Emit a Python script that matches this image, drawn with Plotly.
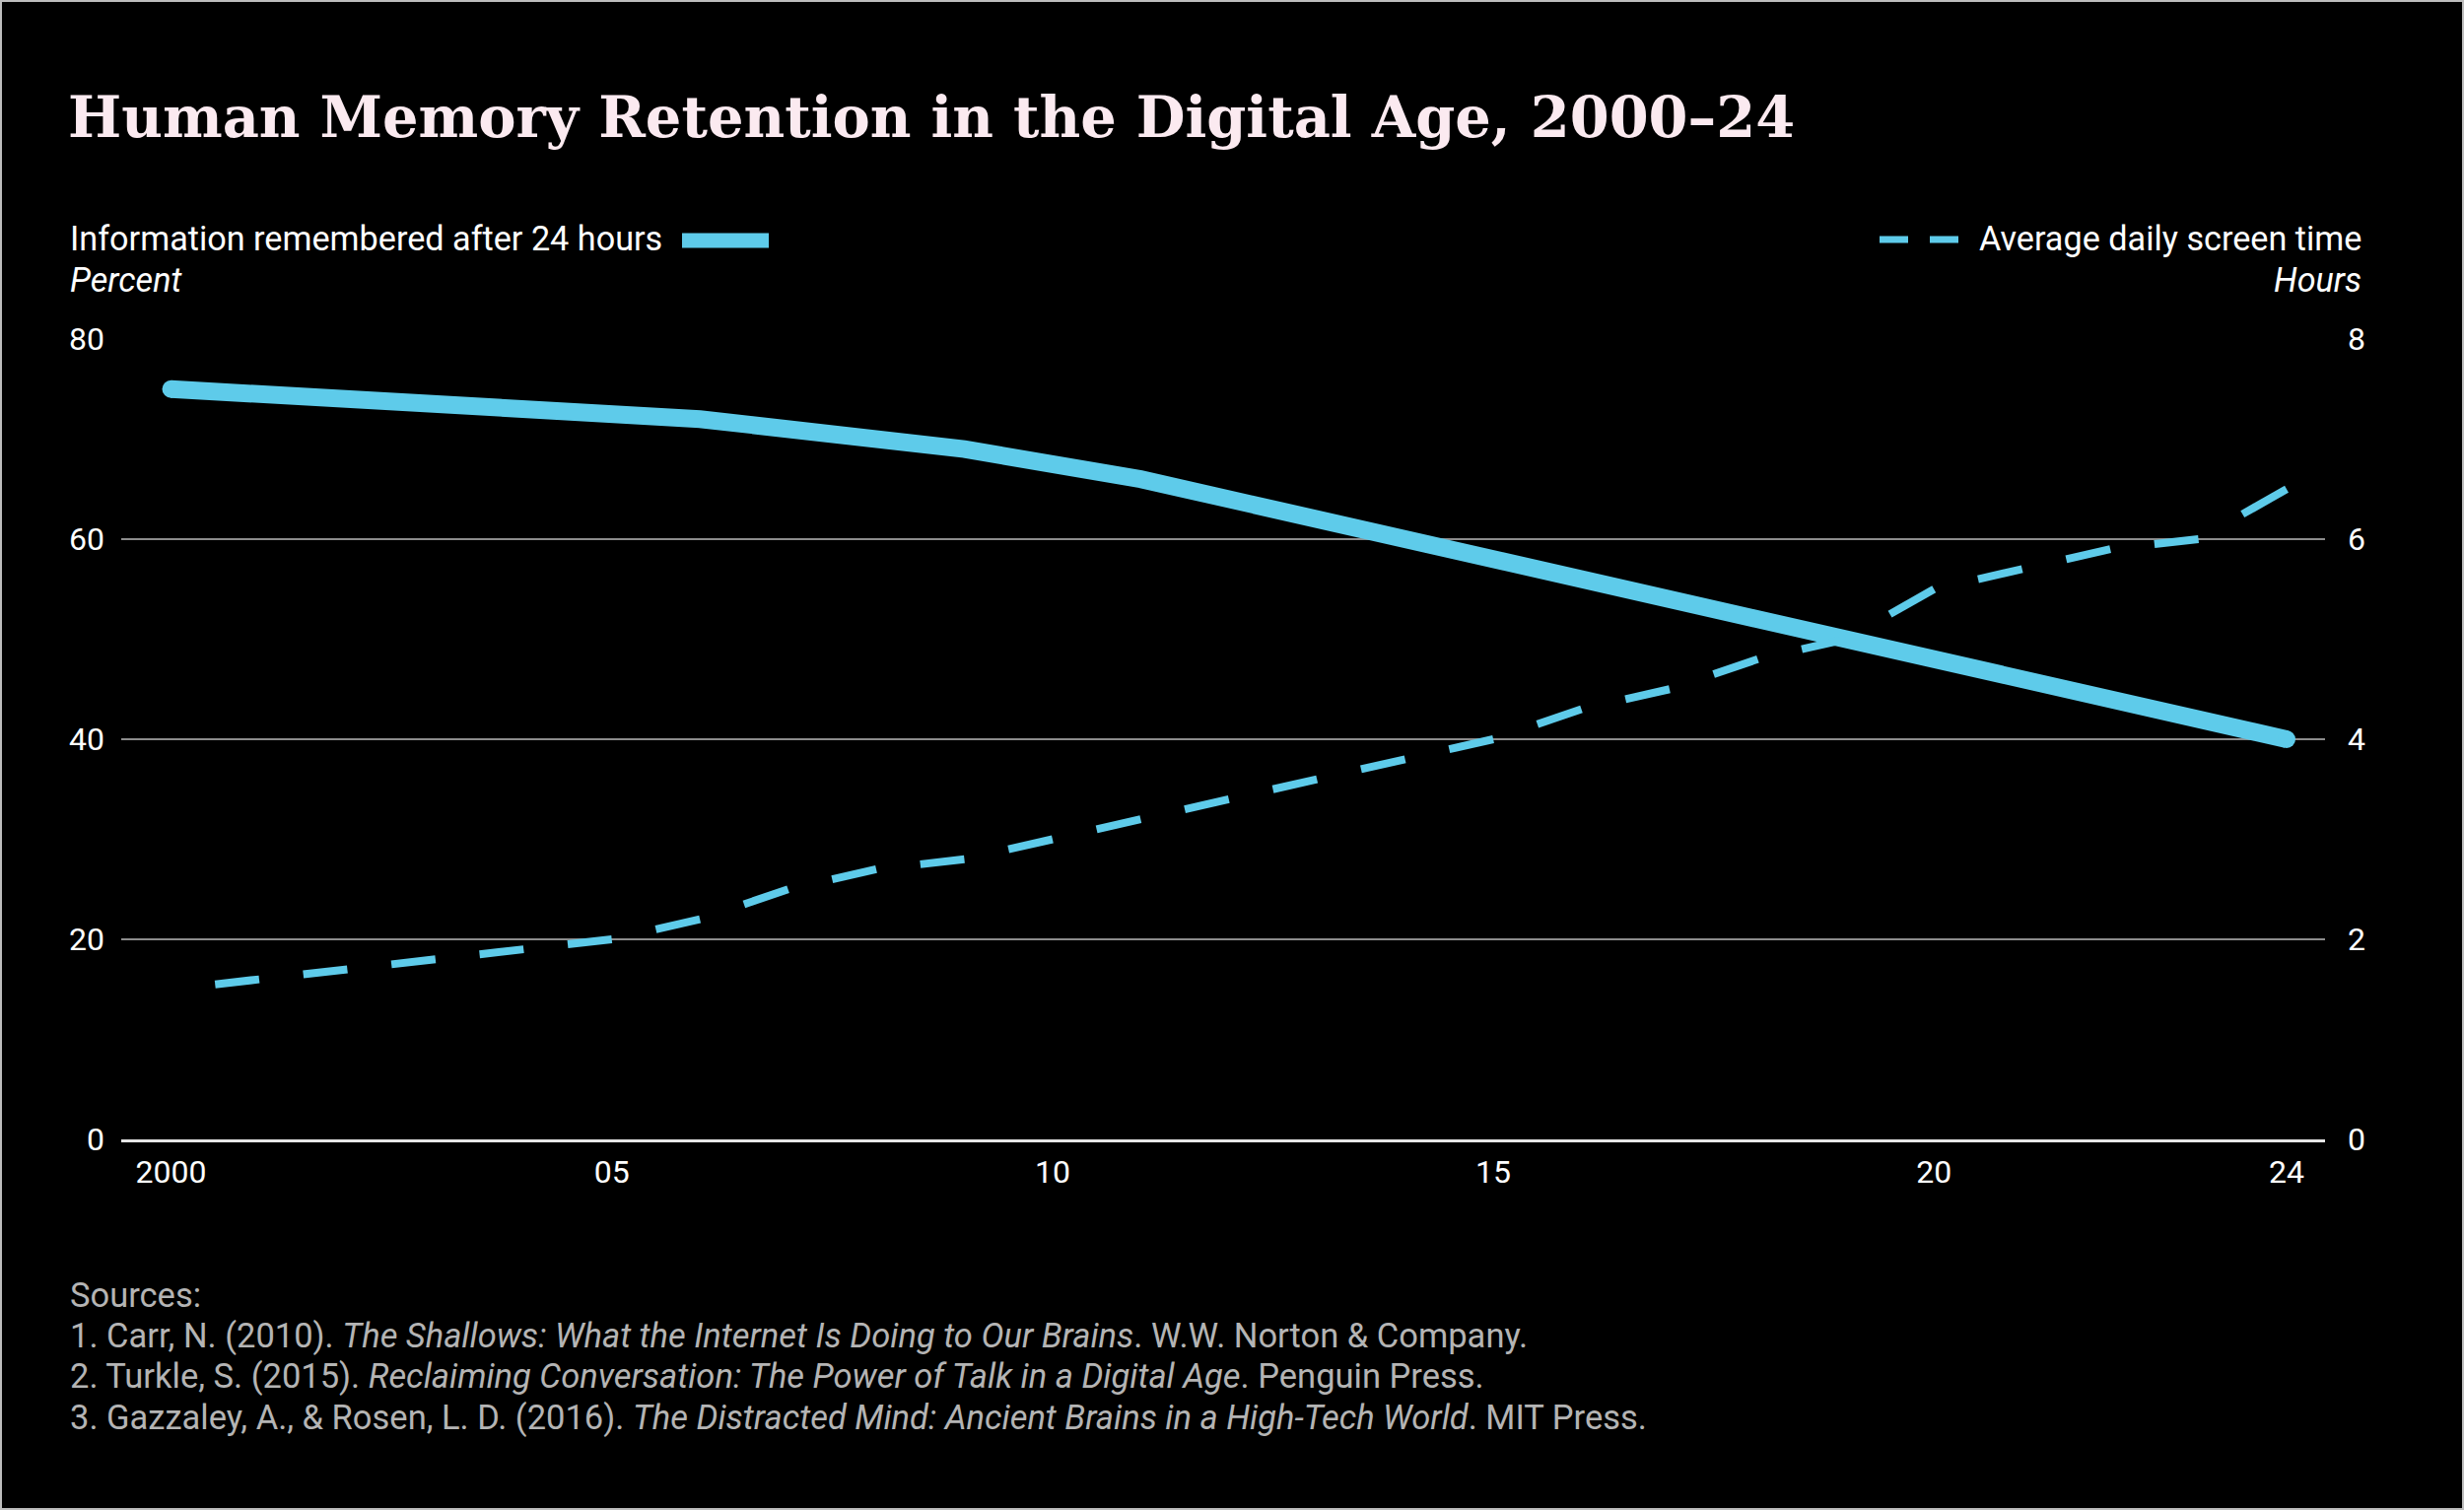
import plotly.graph_objects as go

# data
years = list(range(2000, 2025))
screen_hours = [1.5, 1.6, 1.7, 1.8, 1.9, 2.0, 2.2, 2.5, 2.7, 2.8, 3.0, 3.2, 3.4,
                3.6, 3.8, 4.0, 4.3, 4.5, 4.8, 5.0, 5.5, 5.7, 5.9, 6.0, 6.5]

memory_years = [2000, 2006, 2009, 2011, 2024]
memory_pct = [75, 72, 69, 66, 40]

tick_years = [2000, 2005, 2010, 2015, 2020, 2024]
tick_labels = ["2000", "05", "10", "15", "20", "24"]

sources = [
    "Sources:",
    "1. Carr, N. (2010). <i>The Shallows: What the Internet Is Doing to Our Brains</i>. W.W. Norton &amp; Company.",
    "2. Turkle, S. (2015). <i>Reclaiming Conversation: The Power of Talk in a Digital Age</i>. Penguin Press.",
    "3. Gazzaley, A., &amp; Rosen, L. D. (2016). <i>The Distracted Mind: Ancient Brains in a High-Tech World</i>. MIT Press.",
]

W, H = 2500, 1532
L, R, T, B = 123, 2359, 344, 1156
BLUE = "#5ecbea"
FONT = "Roboto"


def px(x):
    return (x - L) / (R - L)


def py(y):
    return (B - y) / (B - T)


# the reference draws the dashed line as one dash per year, in the second half
seg_x, seg_y = [], []
for i in range(1, len(years)):
    seg_x += [(years[i - 1] + years[i]) / 2, years[i], None]
    seg_y += [(screen_hours[i - 1] + screen_hours[i]) / 2, screen_hours[i], None]

fig = go.Figure()

fig.add_trace(go.Scatter(
    x=seg_x, y=seg_y, yaxis="y2",
    mode="lines", line=dict(color=BLUE, width=8),
    hoverinfo="skip", showlegend=False))

fig.add_trace(go.Scatter(
    x=memory_years, y=memory_pct,
    mode="lines", line=dict(color=BLUE, width=18),
    name="Information remembered after 24 hours", showlegend=False))

# round ends of the thick line
fig.add_trace(go.Scatter(
    x=[memory_years[0], memory_years[-1]], y=[memory_pct[0], memory_pct[-1]],
    mode="markers", marker=dict(color=BLUE, size=18),
    hoverinfo="skip", showlegend=False))

annotations = [
    dict(text="Information remembered after 24 hours", x=px(69), y=py(242),
         xanchor="left", yanchor="middle", font=dict(size=34.2, color="white")),
    dict(text="<i>Percent</i>", x=px(69), y=py(284),
         xanchor="left", yanchor="middle", font=dict(size=34.2, color="white")),
    dict(text="Average daily screen time", x=px(2398), y=py(242),
         xanchor="right", yanchor="middle", font=dict(size=34.2, color="white")),
    dict(text="<i>Hours</i>", x=px(2398), y=py(284),
         xanchor="right", yanchor="middle", font=dict(size=34.2, color="white")),
]
for i, line in enumerate(sources):
    annotations.append(dict(text=line, x=px(69), y=py(1314 + 41.4 * i),
                            xanchor="left", yanchor="middle",
                            font=dict(size=34.5, color="#b4b4b4")))
for a in annotations:
    a.update(xref="paper", yref="paper", showarrow=False)

shapes = [
    dict(type="line", xref="paper", yref="paper",
         x0=px(692), x1=px(780), y0=py(244), y1=py(244),
         line=dict(color=BLUE, width=15)),
    dict(type="line", xref="paper", yref="paper",
         x0=px(1907), x1=px(1987), y0=py(243), y1=py(243),
         line=dict(color=BLUE, width=7, dash="29px,22px")),
    dict(type="rect", xref="paper", yref="paper",
         x0=px(1), x1=px(W - 1), y0=py(1), y1=py(H - 1),
         line=dict(color="#bdbdbd", width=2)),
]

fig.update_layout(
    width=W, height=H,
    paper_bgcolor="black", plot_bgcolor="black",
    margin=dict(l=L, r=W - R, t=T, b=H - B, pad=0),
    font=dict(family=FONT, color="white", size=32),
    title=dict(text="<b>Human Memory Retention in the Digital Age, 2000–24</b>",
               xref="container", yref="container",
               x=69 / W, y=1 - 119 / H, xanchor="left", yanchor="middle",
               font=dict(family="DejaVu Serif", size=57.4, color="#fbeaf0")),
    xaxis=dict(range=[1999.435, 2024.436], tickvals=tick_years, ticktext=tick_labels,
               showgrid=False, zeroline=False, showline=True,
               linecolor="#e6e6e6", linewidth=3, ticks="",
               ticklabelstandoff=3, tickfont=dict(size=32, color="white")),
    yaxis=dict(range=[0, 80], dtick=20, showgrid=True, gridcolor="#8c8c8c",
               gridwidth=1.5, zeroline=False, ticks="",
               ticklabelstandoff=16, tickfont=dict(size=32, color="white")),
    yaxis2=dict(range=[0, 8], dtick=2, overlaying="y", side="right",
                showgrid=False, zeroline=False, ticks="",
                ticklabelstandoff=22, tickfont=dict(size=32, color="white")),
    annotations=annotations,
    shapes=shapes,
    showlegend=False,
)

fig.write_html("out.html", config={"displayModeBar": False},
               post_script="document.body.style.margin = '0';")
